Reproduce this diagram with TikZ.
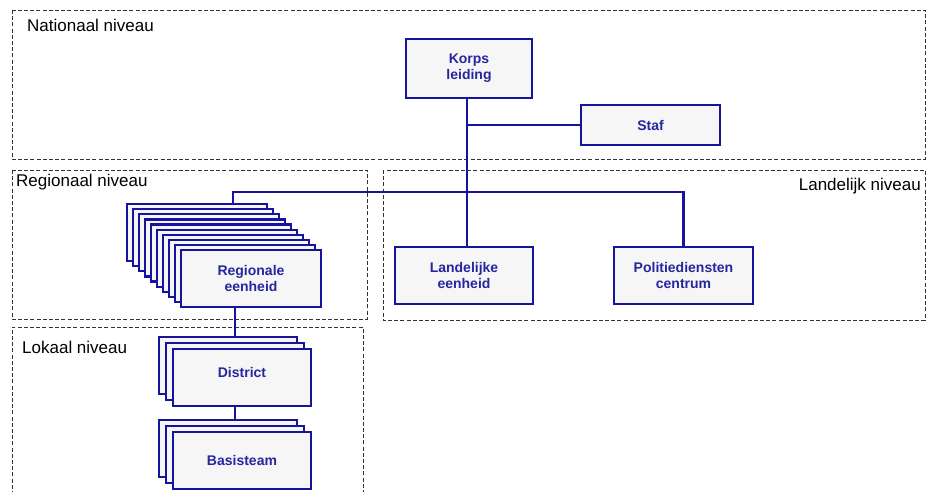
\documentclass[tikz,border=0pt]{standalone}
\usepackage{fontspec}
\setmainfont{Liberation Sans}
\usetikzlibrary{backgrounds,calc}
\definecolor{boxblue}{RGB}{20,20,158}
\definecolor{txtblue}{RGB}{38,38,160}
\definecolor{boxfill}{RGB}{246,246,246}
\definecolor{dashgray}{RGB}{50,50,50}
\begin{document}
\begin{tikzpicture}[x=1pt,y=-1pt,
  unit/.style={draw=boxblue, line width=2.2pt, fill=boxfill, rectangle,
    inner sep=0pt, align=center, text=txtblue,
    font=\fontsize{14}{16}\selectfont\bfseries},
  level/.style={draw=dashgray, line width=1pt, dash pattern=on 4pt off 2.2pt},
  conn/.style={draw=boxblue, line width=2.2pt},
  lvltext/.style={font=\fontsize{17}{20}\selectfont, text=black, inner sep=0pt}
]
\useasboundingbox (0,0) rectangle (929,491);
\node[lvltext, anchor=base west] (nat) at (27,31) {Nationaal niveau};
\node[lvltext, anchor=base west] (reg) at (16,186) {Regionaal niveau};
\node[lvltext, anchor=base east] (lan) at (921,190) {Landelijk niveau};
\node[lvltext, anchor=base west] (lok) at (22,353) {Lokaal niveau};
\coordinate (junc) at (233,192);
% Regionale stack
\foreach \i in {0,...,8} {
  \node[unit, minimum width=140pt, minimum height=57pt]
    (r\i) at ({251-6*(9-\i)},{278.5-5.1*(9-\i)}) {};
}
\node[unit, minimum width=140pt, minimum height=57pt] (r9) at (251,278.5) {Regionale\\eenheid};
% District stack
\node[unit, minimum width=138pt, minimum height=57pt] (d0) at (228,365.5) {};
\node[unit, minimum width=138pt, minimum height=57pt] (d1) at (235,371.5) {};
\node[unit, minimum width=138pt, minimum height=57pt, text depth=10pt] (d2) at (242,377.5) {District};
% Basisteam stack
\node[unit, minimum width=138pt, minimum height=57pt] (b0) at (228,448.5) {};
\node[unit, minimum width=138pt, minimum height=57pt] (b1) at (235,454.5) {};
\node[unit, minimum width=138pt, minimum height=57pt] (b2) at (242,460.5) {Basisteam};
% top
\node[unit, minimum width=126pt, minimum height=59pt] (korps) at (469,68.5) {Korps\\leiding};
\node[unit, minimum width=139pt, minimum height=40pt] (staf) at (650.5,125) {Staf};
\node[unit, minimum width=138pt, minimum height=57pt] (land) at (464,275.5) {Landelijke\\eenheid};
\node[unit, minimum width=139pt, minimum height=57pt] (pol) at (683.5,275.5) {Politiediensten\\centrum};
\begin{scope}[on background layer]
  % level areas
  \draw[level] (12,10) rectangle (925,159);
  \draw[level] (12,170) rectangle (367,319);
  \draw[level] (383,170) rectangle (925,320);
  \draw[level] (12,495) -- (12,327) -- (363,327) -- (363,495);
  % connectors
  \coordinate (kx) at ($(korps.south)+(-2,0)$);
  \draw[conn] (kx) -- (kx |- land.north);
  \draw[conn] (kx |- staf.west) -- (staf.west);
  \draw[conn] (junc |- r0.north) -- (junc) -- (junc -| pol.north) -- (pol.north);
  \draw[conn] (r9.south -| d1.north) -- (d1.north);
  \draw[conn] (d2.south -| b1.north) -- (b1.north);
\end{scope}
\end{tikzpicture}
\end{document}
